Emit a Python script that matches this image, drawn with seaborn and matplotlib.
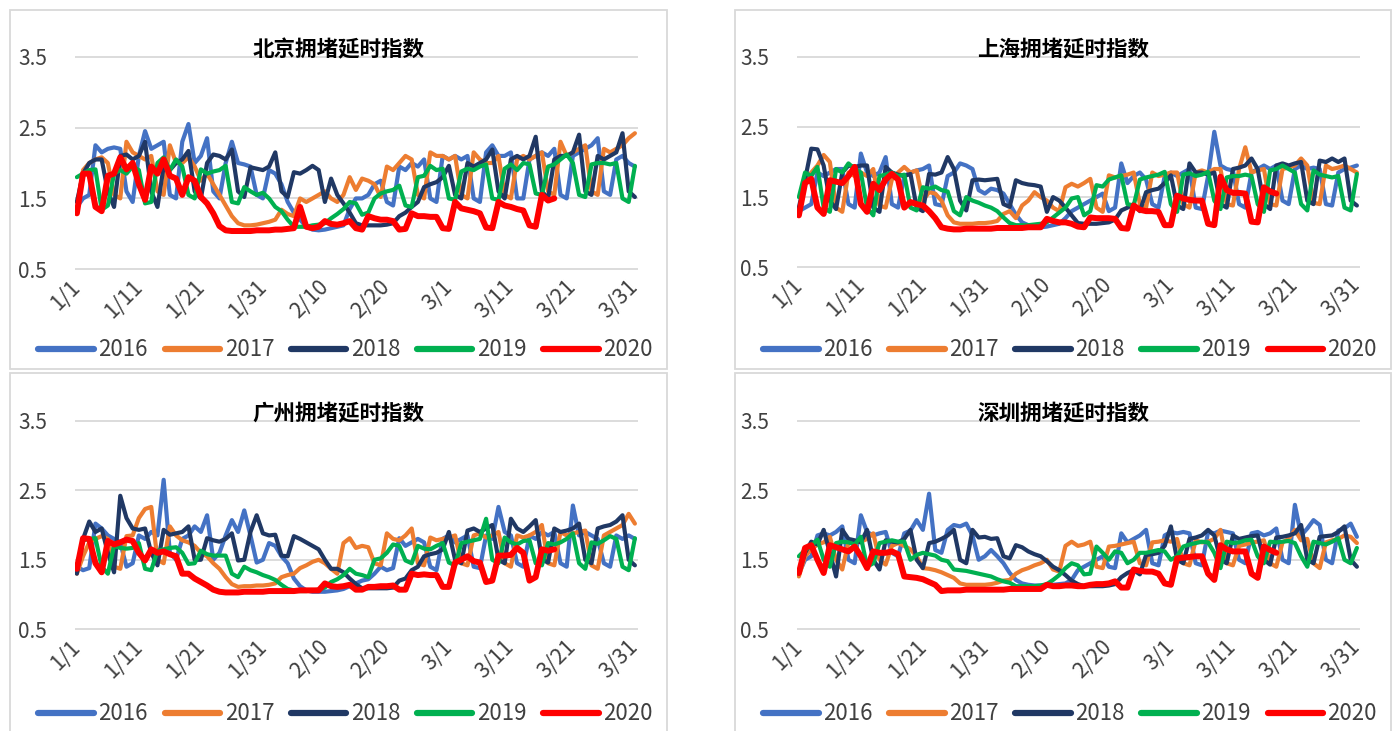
import matplotlib
matplotlib.use("Agg")
import matplotlib.pyplot as plt
import numpy as np
import seaborn as sns
from matplotlib.patches import Rectangle

YEARS = ["2016", "2017", "2018", "2019", "2020"]
COLORS = {"2016": "#4472C4", "2017": "#ED7D31", "2018": "#203864",
          "2019": "#00B050", "2020": "#FF0000"}
TICK_POS = [0, 10, 20, 30, 40, 50, 60, 70, 80, 90]
TICK_LABELS = ["1/1", "1/11", "1/21", "1/31", "2/10", "2/20", "3/1", "3/11", "3/21", "3/31"]
Y_TICKS = [0.5, 1.5, 2.5, 3.5]

# 北京
BJ_2016 = [1.38, 1.5, 1.55, 2.25, 2.15, 2.2, 2.22, 2.2, 1.6, 1.45,
           2.1, 2.45, 2.2, 2.25, 2.3, 1.55, 1.5, 2.3, 2.55, 2.0,
           2.1, 2.35, 1.6, 1.5, 2.0, 2.3, 2.0, 1.98, 1.95, 1.55,
           1.5, 1.9, 1.85, 1.7, 1.45, 1.3, 1.2, 1.1, 1.06, 1.05,
           1.06, 1.08, 1.1, 1.12, 1.35, 1.5, 1.5, 1.55, 1.7, 1.75,
           1.45, 1.4, 1.95, 1.9, 2.0, 1.95, 2.05, 1.5, 1.45, 2.1,
           2.05, 2.1, 2.05, 2.1, 1.5, 1.45, 2.15, 2.25, 2.1, 2.1,
           2.15, 1.5, 1.5, 2.05, 2.1, 2.15, 2.1, 2.2, 1.55, 1.5,
           2.1, 2.15, 2.2, 2.25, 2.35, 1.6, 1.55, 2.05, 2.1, 2.0, 1.95]
BJ_2017 = [1.34, 1.9, 2.0, 2.05, 2.08, 2.0, 1.55, 1.5, 2.3, 2.15,
           2.1, 2.05, 2.1, 1.6, 1.55, 2.25, 2.0, 2.0, 2.08, 1.95,
           1.75, 1.85, 1.7, 1.55, 1.4, 1.25, 1.15, 1.12, 1.12, 1.13,
           1.15, 1.17, 1.2, 1.34, 1.28, 1.25, 1.5, 1.45, 1.5, 1.55,
           1.6, 1.5, 1.45, 1.55, 1.8, 1.62, 1.78, 1.75, 1.7, 1.52,
           1.95, 1.9, 2.0, 2.1, 2.05, 1.55, 1.5, 2.15, 2.1, 2.1,
           2.05, 2.1, 1.55, 1.5, 2.15, 2.05, 2.0, 2.0, 2.1, 1.55,
           1.5, 2.05, 2.1, 2.05, 2.1, 2.15, 1.6, 1.55, 2.3, 2.1,
           2.15, 2.2, 2.25, 1.6, 1.55, 2.2, 2.15, 2.2, 2.25, 2.35, 2.42]
BJ_2018 = [1.45, 1.85, 2.0, 2.05, 2.05, 1.6, 1.38, 2.1, 2.12, 2.05,
           2.1, 2.3, 1.6, 1.38, 1.95, 1.9, 2.0, 2.05, 2.17, 1.6,
           1.5, 2.0, 2.12, 2.1, 2.05, 2.19, 1.6, 1.52, 1.94, 1.92,
           1.9, 1.95, 2.15, 1.6, 1.52, 1.87, 1.85, 1.9, 1.96, 1.9,
           1.45, 1.78, 1.55, 1.43, 1.3, 1.15, 1.12, 1.12, 1.12, 1.12,
           1.13, 1.15, 1.25, 1.3, 1.38, 1.45, 1.66, 1.7, 1.73, 1.8,
           1.96, 1.55, 1.5, 2.0, 1.95, 2.0, 2.05, 2.19, 1.6, 1.5,
           2.05, 2.1, 2.05, 2.1, 2.37, 1.6, 1.5, 2.05, 2.1, 2.1,
           2.15, 2.4, 1.6, 1.55, 2.1, 2.05, 2.1, 2.15, 2.42, 1.6, 1.52]
BJ_2019 = [1.8, 1.85, 1.9, 1.91, 1.34, 1.4, 1.85, 1.9, 1.85, 1.95,
           1.9, 1.43, 1.45, 2.0, 2.08, 1.9, 2.05, 1.95, 1.55, 1.5,
           1.91, 1.85, 1.88, 1.9, 1.96, 1.45, 1.43, 1.66, 1.6, 1.55,
           1.58, 1.5, 1.38, 1.32, 1.2, 1.1, 1.1, 1.1, 1.12, 1.13,
           1.15, 1.22, 1.28, 1.35, 1.45, 1.43, 1.27, 1.3, 1.5, 1.57,
           1.6, 1.62, 1.68, 1.4, 1.38, 1.8, 1.82, 1.96, 1.9, 1.92,
           1.5, 1.48, 1.88, 1.92, 1.9, 1.95, 1.98, 1.5, 1.48, 1.92,
           1.98, 1.9, 2.0, 1.98, 1.57, 1.55, 1.95, 1.98, 2.05, 2.12,
           2.0, 1.55, 1.52, 1.98, 2.0, 2.0, 1.98, 2.0, 1.5, 1.45, 1.96]
BJ_2020 = [1.29, 1.85, 1.85, 1.38, 1.32, 1.82, 1.85, 2.08, 1.91, 2.0,
           1.7, 1.48, 1.95, 1.85, 2.05, 1.82, 1.78, 1.55, 1.8, 1.75,
           1.52, 1.43, 1.29, 1.11, 1.05, 1.04, 1.04, 1.04, 1.04, 1.05,
           1.05, 1.05, 1.06, 1.06, 1.07, 1.08, 1.38, 1.1, 1.08, 1.1,
           1.18, 1.14, 1.13, 1.15, 1.18, 1.08, 1.06, 1.25, 1.22, 1.2,
           1.2, 1.18, 1.06, 1.07, 1.29, 1.25, 1.25, 1.24, 1.24, 1.08,
           1.07, 1.45, 1.36, 1.34, 1.32, 1.29, 1.09, 1.08, 1.45, 1.4,
           1.38, 1.35, 1.33, 1.12, 1.1, 1.55, 1.47, 1.5]

# 上海
SH_2016 = [1.3, 1.35, 1.4, 1.85, 1.8, 1.85, 1.9, 1.9, 1.4, 1.35,
           2.12, 1.85, 1.8, 1.85, 2.07, 1.4, 1.35, 1.8, 1.85, 1.88,
           1.9, 1.95, 1.4, 1.38, 1.8, 1.85, 1.98, 1.95, 1.9, 1.6,
           1.55, 1.62, 1.6, 1.55, 1.4, 1.25, 1.14, 1.1, 1.08, 1.07,
           1.08, 1.1, 1.12, 1.2, 1.3, 1.35, 1.4, 1.45, 1.5, 1.55,
           1.3, 1.35, 1.98, 1.7, 1.8, 1.85, 1.75, 1.4, 1.35, 1.8,
           1.85, 1.8, 1.85, 1.9, 1.35, 1.33, 1.8, 2.43, 1.95, 1.9,
           1.88, 1.4, 1.35, 1.85, 1.9, 1.95, 1.9, 1.95, 1.45, 1.4,
           1.9, 1.95, 1.9, 1.92, 1.9, 1.4, 1.38, 1.85, 1.9, 1.92, 1.95]
SH_2017 = [1.28, 1.75, 1.85, 1.95, 2.1, 2.0, 1.35, 1.29, 1.85, 1.8,
           1.85, 1.8, 1.9, 1.38, 1.35, 1.75, 1.85, 1.93, 1.85, 1.88,
           1.45, 1.57, 1.55, 1.45, 1.24, 1.14, 1.12, 1.12, 1.12, 1.13,
           1.13, 1.14, 1.16, 1.26, 1.3, 1.2, 1.38, 1.45, 1.57, 1.5,
           1.45, 1.35, 1.3, 1.64, 1.69, 1.65, 1.7, 1.76, 1.35, 1.29,
           1.81, 1.78, 1.8, 1.82, 1.85, 1.4, 1.35, 1.85, 1.8, 1.82,
           1.85, 1.85, 1.4, 1.35, 1.85, 1.88, 1.85, 1.9, 1.9, 1.4,
           1.38, 1.9, 2.21, 1.85, 1.88, 1.9, 1.4, 1.38, 1.9, 1.92,
           1.95, 2.05, 1.95, 1.42, 1.4, 1.95, 1.9, 1.92, 1.95, 1.9, 1.85]
SH_2018 = [1.35, 1.75, 2.19, 2.18, 1.95, 1.45, 1.33, 1.85, 1.95, 1.93,
           1.95, 1.95, 1.35, 1.29, 1.93, 1.85, 1.82, 1.8, 1.83, 1.35,
           1.3, 1.83, 1.82, 1.85, 2.07, 1.9, 1.45, 1.31, 1.74, 1.75,
           1.74, 1.75, 1.76, 1.4, 1.36, 1.74, 1.7, 1.68, 1.67, 1.65,
           1.29, 1.5, 1.45, 1.35, 1.24, 1.13, 1.12, 1.12, 1.12, 1.13,
           1.14, 1.18, 1.31, 1.35, 1.4, 1.3, 1.57, 1.6, 1.62, 1.7,
           1.81, 1.38, 1.33, 1.98, 1.85, 1.85, 1.82, 1.85, 1.4, 1.35,
           1.9, 1.92, 1.95, 2.05, 1.9, 1.4, 1.33, 1.95, 1.98, 1.95,
           1.98, 2.0, 1.45, 1.4, 2.02, 2.0, 2.05, 2.0, 2.05, 1.45, 1.38]
SH_2019 = [1.5, 1.85, 1.8, 1.93, 1.35, 1.29, 1.9, 1.85, 1.98, 1.9,
           1.85, 1.35, 1.24, 1.8, 1.82, 1.85, 1.8, 1.82, 1.35, 1.31,
           1.64, 1.62, 1.65, 1.6, 1.58, 1.3, 1.24, 1.5, 1.45, 1.42,
           1.38, 1.35, 1.3, 1.21, 1.13, 1.1, 1.1, 1.1, 1.11, 1.12,
           1.14, 1.21, 1.28, 1.35, 1.48, 1.5, 1.24, 1.3, 1.67, 1.65,
           1.75, 1.78, 1.81, 1.4, 1.38, 1.75, 1.78, 1.8, 1.82, 1.86,
           1.4, 1.29, 1.82, 1.84, 1.8, 1.82, 1.86, 1.45, 1.33, 1.78,
           1.8, 1.8, 1.82, 1.8, 1.4, 1.29, 1.88, 1.9, 1.95, 1.9,
           1.85, 1.4, 1.31, 1.88, 1.82, 1.8, 1.78, 1.8, 1.35, 1.31, 1.83]
SH_2020 = [1.24, 1.7, 1.76, 1.35, 1.26, 1.74, 1.72, 1.7, 1.8, 1.93,
           1.4, 1.29, 1.69, 1.6, 1.75, 1.83, 1.75, 1.35, 1.43, 1.4,
           1.38, 1.3, 1.2, 1.07, 1.05, 1.04, 1.04, 1.05, 1.05, 1.05,
           1.05, 1.05, 1.06, 1.06, 1.06, 1.06, 1.06, 1.07, 1.07, 1.07,
           1.19, 1.16, 1.14, 1.14, 1.12, 1.08, 1.07, 1.21, 1.2, 1.2,
           1.2, 1.19, 1.06, 1.05, 1.38, 1.32, 1.3, 1.3, 1.29, 1.1,
           1.1, 1.52, 1.48, 1.46, 1.45, 1.45, 1.12, 1.1, 1.79, 1.6,
           1.56, 1.56, 1.55, 1.15, 1.14, 1.64, 1.58, 1.55]

# 广州
GZ_2016 = [1.4, 1.35, 1.38, 2.02, 1.95, 1.85, 1.8, 1.75, 1.4, 1.45,
           1.85, 1.8, 1.9, 1.85, 2.65, 1.6, 1.5, 1.8, 1.85, 1.98,
           1.9, 2.14, 1.5, 1.6, 1.85, 2.07, 1.9, 2.21, 1.85, 1.46,
           1.5, 1.74, 1.7, 1.55, 1.45, 1.23, 1.12, 1.06, 1.04, 1.04,
           1.04, 1.05, 1.06, 1.08, 1.12, 1.16, 1.2, 1.22, 1.3, 1.4,
           1.35, 1.38, 1.81, 1.7, 1.75, 1.8, 1.75, 1.4, 1.35, 1.8,
           1.85, 1.75, 1.8, 1.85, 1.4, 1.38, 1.85, 1.8, 2.26, 1.9,
           1.85, 1.45, 1.4, 1.85, 1.8, 1.9, 1.85, 1.9, 1.45, 1.4,
           2.28, 1.85, 1.9, 1.85, 1.8, 1.45, 1.4, 1.85, 1.8, 1.85, 1.8]
GZ_2017 = [1.3, 1.55, 1.75, 1.8, 1.84, 1.8, 1.4, 1.37, 1.84, 1.85,
           2.1, 2.23, 2.26, 1.5, 1.45, 1.98, 1.85, 1.78, 1.75, 1.7,
           1.6, 1.55, 1.45, 1.37, 1.25, 1.15, 1.11, 1.12, 1.12, 1.13,
           1.13, 1.14, 1.16, 1.25, 1.28, 1.3, 1.38, 1.42, 1.47, 1.5,
           1.45, 1.37, 1.3, 1.74, 1.81, 1.67, 1.7, 1.68, 1.45, 1.42,
           1.88, 1.8, 1.78, 1.85, 1.95, 1.45, 1.42, 1.82, 1.78, 1.8,
           1.82, 1.85, 1.45, 1.42, 1.85, 1.88, 1.82, 1.85, 1.9, 1.45,
           1.4, 1.85, 1.82, 1.85, 1.9, 2.0, 1.45, 1.42, 1.9, 1.85,
           1.88, 1.9, 1.92, 1.42, 1.37, 1.85, 1.9, 1.95, 2.0, 2.16, 2.02]
GZ_2018 = [1.3, 1.8, 2.05, 1.9, 1.95, 1.6, 1.32, 2.42, 2.1, 1.95,
           1.93, 1.95, 1.6, 1.42, 1.93, 1.86, 1.88, 1.9, 1.98, 1.5,
           1.5, 1.81, 1.78, 1.76, 1.8, 1.88, 1.49, 1.5, 1.9, 2.14,
           1.88, 1.85, 1.86, 1.56, 1.55, 1.84, 1.8, 1.75, 1.7, 1.65,
           1.5, 1.37, 1.37, 1.32, 1.23, 1.15, 1.09, 1.09, 1.09, 1.09,
           1.09, 1.1, 1.2, 1.23, 1.35, 1.4, 1.55, 1.58, 1.6, 1.65,
           1.9, 1.5, 1.45, 1.92, 1.95, 1.9, 1.95, 2.0, 1.5, 1.45,
           2.09, 1.95, 1.9, 1.98, 2.07, 1.5, 1.46, 1.95, 1.9, 1.92,
           1.95, 2.02, 1.5, 1.45, 1.95, 1.98, 2.0, 2.05, 2.14, 1.5, 1.42]
GZ_2019 = [1.4, 1.78, 1.8, 1.81, 1.4, 1.3, 1.7, 1.67, 1.66, 1.67,
           1.74, 1.37, 1.35, 1.63, 1.65, 1.67, 1.68, 1.6, 1.44, 1.45,
           1.63, 1.58, 1.56, 1.56, 1.56, 1.3, 1.25, 1.4, 1.35, 1.32,
           1.28, 1.25, 1.21, 1.14, 1.08, 1.06, 1.05, 1.05, 1.06, 1.07,
           1.1, 1.18, 1.22, 1.28, 1.37, 1.3, 1.28, 1.25, 1.5, 1.52,
           1.6, 1.72, 1.7, 1.49, 1.45, 1.7, 1.66, 1.65, 1.7, 1.74,
           1.46, 1.42, 1.74, 1.76, 1.78, 1.8, 2.09, 1.5, 1.45, 1.82,
           1.75, 1.72, 1.77, 1.78, 1.45, 1.42, 1.74, 1.72, 1.75, 1.8,
           1.88, 1.45, 1.37, 1.75, 1.73, 1.78, 1.84, 1.8, 1.4, 1.35, 1.81]
GZ_2020 = [1.37, 1.81, 1.8, 1.45, 1.32, 1.77, 1.72, 1.75, 1.79, 1.77,
           1.6, 1.49, 1.65, 1.6, 1.62, 1.58, 1.55, 1.3, 1.3, 1.23,
           1.18, 1.13, 1.07, 1.04, 1.03, 1.03, 1.03, 1.04, 1.04, 1.04,
           1.04, 1.05, 1.05, 1.05, 1.05, 1.05, 1.06, 1.06, 1.06, 1.06,
           1.16, 1.12, 1.11, 1.12, 1.14, 1.07, 1.07, 1.11, 1.11, 1.12,
           1.12, 1.13, 1.07, 1.07, 1.3, 1.28, 1.29, 1.28, 1.28, 1.11,
           1.11, 1.46, 1.5, 1.55, 1.48, 1.46, 1.18, 1.2, 1.56, 1.56,
           1.57, 1.67, 1.6, 1.2, 1.25, 1.65, 1.63, 1.65]

# 深圳
SZ_2016 = [1.3, 1.5, 1.55, 1.85, 1.88, 1.85, 1.9, 1.98, 1.5, 1.45,
           2.14, 1.9, 1.85, 1.88, 1.9, 1.6, 1.55, 1.88, 1.92, 2.07,
           1.93, 2.45, 1.64, 1.6, 1.93, 2.0, 1.98, 2.02, 1.85, 1.5,
           1.55, 1.64, 1.55, 1.45, 1.31, 1.21, 1.16, 1.14, 1.13, 1.13,
           1.14, 1.14, 1.15, 1.16, 1.21, 1.35, 1.4, 1.45, 1.5, 1.55,
           1.4, 1.38, 1.88, 1.75, 1.8, 1.85, 1.93, 1.45, 1.42, 1.85,
           1.9, 1.88, 1.9, 1.88, 1.45, 1.42, 1.9, 1.88, 1.92, 1.9,
           1.88, 1.5, 1.45, 1.88, 1.9, 1.85, 1.88, 1.95, 1.5, 1.45,
           2.29, 1.85, 1.95, 2.07, 2.0, 1.5, 1.45, 1.92, 1.95, 2.02, 1.83]
SZ_2017 = [1.26, 1.55, 1.65, 1.72, 1.75, 1.83, 1.5, 1.36, 1.75, 1.74,
           1.76, 1.8, 1.88, 1.5, 1.43, 1.7, 1.74, 1.7, 1.65, 1.55,
           1.38, 1.37, 1.35, 1.32, 1.28, 1.24, 1.16, 1.14, 1.14, 1.14,
           1.14, 1.15, 1.17, 1.2, 1.21, 1.3, 1.35, 1.38, 1.42, 1.45,
           1.5, 1.36, 1.33, 1.7, 1.76, 1.7, 1.72, 1.76, 1.4, 1.38,
           1.69, 1.7, 1.72, 1.74, 1.76, 1.45, 1.42, 1.75, 1.76, 1.78,
           1.76, 1.8, 1.45, 1.42, 1.78, 1.75, 1.76, 1.8, 1.93, 1.45,
           1.42, 1.7, 1.72, 1.75, 1.76, 1.78, 1.45, 1.4, 1.75, 1.8,
           1.93, 1.78, 1.8, 1.45, 1.38, 1.75, 1.78, 1.8, 1.85, 1.83, 1.74]
SZ_2018 = [1.3, 1.6, 1.76, 1.72, 1.93, 1.6, 1.26, 1.93, 1.8, 1.78,
           1.75, 1.93, 1.5, 1.36, 1.78, 1.76, 1.75, 1.8, 1.93, 1.5,
           1.38, 1.74, 1.76, 1.8, 1.85, 1.93, 1.5, 1.45, 1.93, 1.82,
           1.83, 1.8, 1.81, 1.55, 1.52, 1.71, 1.68, 1.62, 1.58, 1.55,
           1.48, 1.4, 1.35, 1.28, 1.2, 1.15, 1.12, 1.12, 1.12, 1.12,
           1.13, 1.15, 1.25, 1.31, 1.35, 1.29, 1.57, 1.58, 1.6, 1.7,
           1.98, 1.5, 1.45, 1.8, 1.82, 1.85, 1.93, 1.85, 1.5, 1.45,
           1.85, 1.8, 1.82, 1.84, 1.85, 1.5, 1.43, 1.82, 1.83, 1.85,
           1.88, 2.0, 1.5, 1.45, 1.83, 1.84, 1.85, 1.9, 1.98, 1.5, 1.4]
SZ_2019 = [1.55, 1.64, 1.7, 1.79, 1.5, 1.4, 1.74, 1.76, 1.75, 1.72,
           1.83, 1.4, 1.45, 1.74, 1.76, 1.78, 1.76, 1.76, 1.5, 1.57,
           1.6, 1.58, 1.56, 1.5, 1.48, 1.36, 1.35, 1.34, 1.32, 1.3,
           1.28, 1.26, 1.22, 1.19, 1.17, 1.12, 1.12, 1.12, 1.12, 1.13,
           1.15, 1.21, 1.28, 1.38, 1.45, 1.42, 1.29, 1.3, 1.69, 1.6,
           1.5, 1.62, 1.6, 1.45, 1.5, 1.6, 1.6, 1.62, 1.64, 1.62,
           1.5, 1.55, 1.69, 1.72, 1.74, 1.76, 1.75, 1.6, 1.38, 1.76,
           1.74, 1.75, 1.78, 1.79, 1.55, 1.45, 1.76, 1.75, 1.76, 1.77,
           1.74, 1.55, 1.4, 1.76, 1.74, 1.72, 1.76, 1.81, 1.5, 1.45, 1.67]
SZ_2020 = [1.31, 1.67, 1.71, 1.5, 1.31, 1.71, 1.68, 1.65, 1.62, 1.69,
           1.55, 1.38, 1.62, 1.6, 1.6, 1.62, 1.58, 1.26, 1.25, 1.24,
           1.22, 1.18, 1.14, 1.05, 1.06, 1.06, 1.06, 1.07, 1.07, 1.07,
           1.07, 1.07, 1.07, 1.07, 1.08, 1.08, 1.08, 1.08, 1.08, 1.08,
           1.14, 1.12, 1.12, 1.13, 1.13, 1.12, 1.12, 1.14, 1.15, 1.15,
           1.16, 1.19, 1.1, 1.1, 1.36, 1.34, 1.33, 1.33, 1.3, 1.16,
           1.14, 1.52, 1.53, 1.54, 1.55, 1.55, 1.3, 1.21, 1.71, 1.65,
           1.62, 1.62, 1.62, 1.3, 1.24, 1.69, 1.64, 1.6]

W, H = 1397, 731

# title, series, chart box (l, t, r, b), plot area (l, t, r, b), title y, legend y
PANELS = [
    ("北京拥堵延时指数", [BJ_2016, BJ_2017, BJ_2018, BJ_2019, BJ_2020],
     (10, 10, 667, 369), (75, 56, 638, 270), 50, 350),
    ("上海拥堵延时指数", [SH_2016, SH_2017, SH_2018, SH_2019, SH_2020],
     (735, 10, 1391, 369), (797, 56, 1360, 268), 50, 350),
    ("广州拥堵延时指数", [GZ_2016, GZ_2017, GZ_2018, GZ_2019, GZ_2020],
     (10, 373, 667, 740), (75, 420, 638, 630), 414, 714),
    ("深圳拥堵延时指数", [SZ_2016, SZ_2017, SZ_2018, SZ_2019, SZ_2020],
     (735, 373, 1391, 740), (797, 420, 1360, 630), 414, 714),
]

sns.set_style("white")
plt.rcParams["font.family"] = ["Noto Sans CJK SC", "DejaVu Sans"]

fig = plt.figure(figsize=(W / 100, H / 100), dpi=100)


def frac_rect(l, t, r, b):
    return [l / W, 1 - b / H, (r - l) / W, (b - t) / H]


for title, series, box, area, title_y, legend_y in PANELS:
    bl, bb, bw, bh = frac_rect(*box)
    fig.patches.append(Rectangle((bl, bb), bw, bh, transform=fig.transFigure,
                                 fill=False, edgecolor="#d9d9d9", linewidth=1.3))
    ax = fig.add_axes(frac_rect(*area))
    for year, vals in zip(YEARS, series):
        sns.lineplot(x=np.arange(len(vals)), y=vals, ax=ax, color=COLORS[year],
                     linewidth=4.3 if year == "2020" else 3.0, label=year)

    ax.set_xlim(-0.3, 90.5)
    ax.set_ylim(0.49, 3.51)
    ax.set_yticks(Y_TICKS)
    ax.set_yticklabels([f"{v:.1f}" for v in Y_TICKS])
    ax.set_xticks(TICK_POS)
    ax.set_xticklabels(TICK_LABELS, rotation=45, ha="right", va="center",
                       rotation_mode="anchor")
    ax.grid(axis="y", color="#d9d9d9", linewidth=1.3)
    ax.grid(axis="x", visible=False)
    ax.set_axisbelow(True)
    ax.tick_params(length=0, labelcolor="#404040")
    ax.tick_params(axis="y", pad=20, labelsize=15)
    ax.tick_params(axis="x", pad=10, labelsize=15.5)
    for s in ax.spines.values():
        s.set_visible(False)
    ax.set_xlabel("")
    ax.set_ylabel("")

    cx = (box[0] + box[2]) / 2 / W
    fig.text(cx, 1 - title_y / H, title, ha="center", va="center",
             fontsize=15.5, fontweight="bold", color="black")

    # legend sits a little right of the box centre, like the original
    lx = ((box[0] + box[2]) / 2 + 7) / W
    handles, labels = ax.get_legend_handles_labels()
    leg = ax.legend(handles, labels, loc="center", bbox_to_anchor=(lx, 1 - legend_y / H),
                    bbox_transform=fig.transFigure, ncol=5, frameon=False,
                    fontsize=16, handlelength=2.5, handletextpad=0.2,
                    columnspacing=0.75)
    for line in leg.get_lines():
        line.set_linewidth(4.5)
    for txt in leg.get_texts():
        txt.set_color("#404040")

fig.savefig("out.png", dpi=100)
